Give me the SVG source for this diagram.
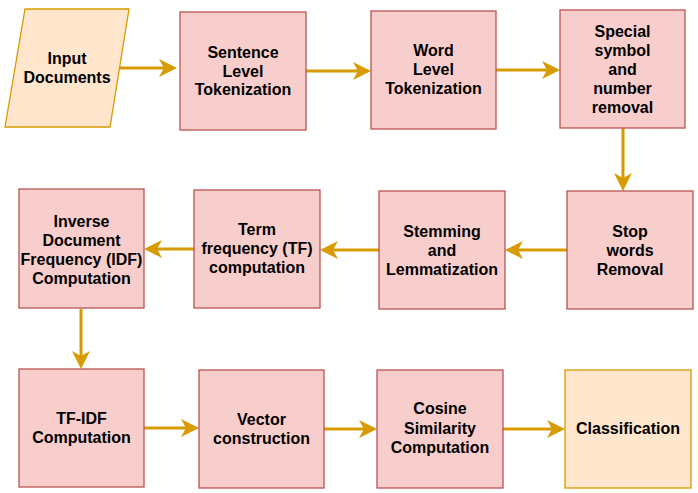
<svg xmlns="http://www.w3.org/2000/svg" width="698" height="493" viewBox="0 0 698 493">
<style>
.p{fill:#f8cecc;stroke:#b85450;stroke-width:1.3}
.o{fill:#ffe6cc;stroke:#d79b00;stroke-width:1.3}
.t{font-family:"Liberation Sans",Arial,sans-serif;font-weight:bold;font-size:16px;fill:#000;text-anchor:middle}
.c{fill:none;stroke:#d79b00;stroke-width:3;marker-end:url(#ah)}
</style>
<defs>
<marker id="ah" markerUnits="userSpaceOnUse" markerWidth="18" markerHeight="18" viewBox="0 0 18 18" refX="5" refY="9" orient="auto">
<path d="M0,0 L18,9 L0,18 L5,9 Z" fill="#d79b00"/>
</marker>
</defs>
<rect width="698" height="493" fill="#fff"/>
<g id="connectors">
<path class="c" d="M119,68 L164,68"/>
<path class="c" d="M306,71 L358,71"/>
<path class="c" d="M496,70 L547,70"/>
<path class="c" d="M623,128 L623,178"/>
<path class="c" d="M567,250 L518,250"/>
<path class="c" d="M379,250 L333,250"/>
<path class="c" d="M194,249 L157,249"/>
<path class="c" d="M81,309 L81,356"/>
<path class="c" d="M144,428 L186,428"/>
<path class="c" d="M324,429 L364,429"/>
<path class="c" d="M503,429 L552,429"/>
</g>
<g id="input"><polygon class="o" points="25,9 129,9 110,127 5,127"/><text class="t" x="67" y="64">Input</text><text class="t" x="67" y="83">Documents</text></g>
<g id="sentence"><rect class="p" x="180" y="12" width="126" height="118"/><text class="t" x="243" y="58">Sentence</text><text class="t" x="243" y="77">Level</text><text class="t" x="243" y="95">Tokenization</text></g>
<g id="word"><rect class="p" x="371" y="11" width="125" height="118"/><text class="t" x="433.5" y="56">Word</text><text class="t" x="433.5" y="75">Level</text><text class="t" x="433.5" y="94">Tokenization</text></g>
<g id="special"><rect class="p" x="560" y="10" width="125" height="118"/><text class="t" x="622.5" y="37">Special</text><text class="t" x="622.5" y="56">symbol</text><text class="t" x="622.5" y="75">and</text><text class="t" x="622.5" y="94">number</text><text class="t" x="622.5" y="113">removal</text></g>
<g id="stop"><rect class="p" x="567" y="191" width="126" height="118"/><text class="t" x="630" y="237">Stop</text><text class="t" x="630" y="256">words</text><text class="t" x="630" y="275">Removal</text></g>
<g id="stemming"><rect class="p" x="379" y="191" width="126" height="118"/><text class="t" x="442" y="237">Stemming</text><text class="t" x="442" y="256">and</text><text class="t" x="442" y="275">Lemmatization</text></g>
<g id="tf"><rect class="p" x="194" y="190" width="126" height="118"/><text class="t" x="257" y="235">Term</text><text class="t" x="257" y="254">frequency (TF)</text><text class="t" x="257" y="273">computation</text></g>
<g id="idf"><rect class="p" x="19" y="189" width="125" height="119"/><text class="t" x="81.5" y="227">Inverse</text><text class="t" x="81.5" y="246">Document</text><text class="t" x="81.5" y="265">Frequency (IDF)</text><text class="t" x="81.5" y="284">Computation</text></g>
<g id="tfidf"><rect class="p" x="19" y="369" width="125" height="118"/><text class="t" x="81.5" y="424">TF-IDF</text><text class="t" x="81.5" y="443">Computation</text></g>
<g id="vector"><rect class="p" x="199" y="370" width="125" height="118"/><text class="t" x="261.5" y="425">Vector</text><text class="t" x="261.5" y="444">construction</text></g>
<g id="cosine"><rect class="p" x="377" y="370" width="126" height="118"/><text class="t" x="440" y="414">Cosine</text><text class="t" x="440" y="434">Similarity</text><text class="t" x="440" y="453">Computation</text></g>
<g id="classification"><rect class="o" x="565" y="370" width="126" height="118"/><text class="t" x="628" y="434">Classification</text></g>
</svg>
